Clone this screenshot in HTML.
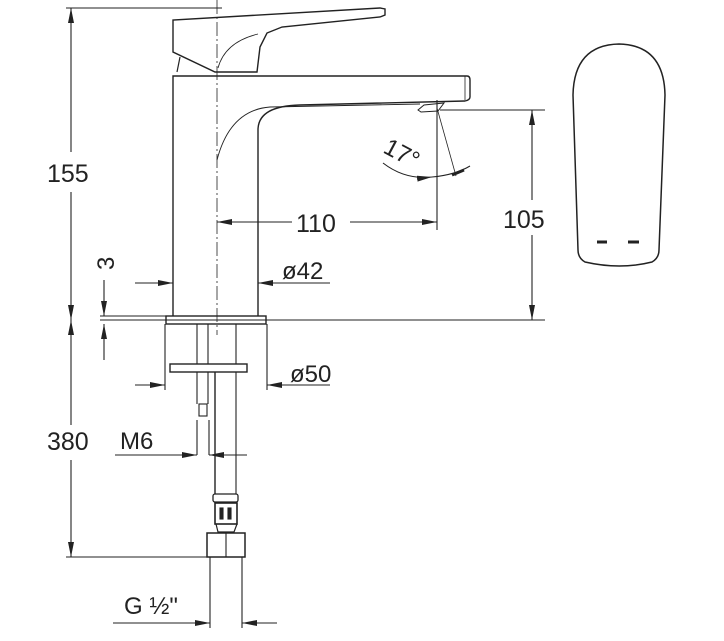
<!DOCTYPE html>
<html><head><style>
html,body{margin:0;padding:0;background:#fff;}
svg{display:block;}
text{font-family:"Liberation Sans",sans-serif;fill:#222;}
</style></head><body>
<svg width="724" height="641" viewBox="0 0 724 641" xmlns="http://www.w3.org/2000/svg">
<defs>
<marker id="a" viewBox="0 0 10 10" refX="10" refY="5" markerWidth="15" markerHeight="6" preserveAspectRatio="none" markerUnits="userSpaceOnUse" orient="auto-start-reverse"><path d="M0,0 L10,5 L0,10 z" fill="#222"/></marker>
</defs>
<g fill="none" stroke="#222" stroke-width="1.1">
<line x1="66" y1="8" x2="222" y2="8"/>
<line x1="100" y1="320" x2="545" y2="320"/>
<line x1="100" y1="316" x2="173" y2="316"/>
<line x1="440" y1="110" x2="545" y2="110"/>
<line x1="66" y1="557" x2="207" y2="557"/>
<line x1="217" y1="0" x2="217" y2="335" stroke-dasharray="14,3,2,3" stroke-width="0.8"/>
<line x1="71" y1="8" x2="71" y2="152" marker-start="url(#a)"/>
<line x1="71" y1="192" x2="71" y2="320" marker-end="url(#a)"/>
<line x1="71" y1="320" x2="71" y2="425" marker-start="url(#a)"/>
<line x1="71" y1="460" x2="71" y2="557" marker-end="url(#a)"/>
<line x1="104" y1="280" x2="104" y2="316" marker-end="url(#a)"/>
<line x1="104" y1="324" x2="104" y2="360" marker-start="url(#a)"/>
<line x1="532" y1="110" x2="532" y2="200" marker-start="url(#a)"/>
<line x1="532" y1="235" x2="532" y2="320" marker-end="url(#a)"/>
<line x1="217" y1="222" x2="292" y2="222" marker-start="url(#a)"/>
<line x1="350" y1="222" x2="437" y2="222" marker-end="url(#a)"/>
<line x1="437" y1="100" x2="437" y2="230"/>
<line x1="135" y1="283" x2="173" y2="283" marker-end="url(#a)"/>
<line x1="258" y1="283" x2="330" y2="283" marker-start="url(#a)"/>
<line x1="135" y1="385" x2="165" y2="385" marker-end="url(#a)"/>
<line x1="267" y1="385" x2="330" y2="385" marker-start="url(#a)"/>
<line x1="165" y1="324" x2="165" y2="390"/>
<line x1="267" y1="324" x2="267" y2="390"/>
<line x1="115" y1="455" x2="197" y2="455" marker-end="url(#a)"/>
<line x1="209" y1="455" x2="247" y2="455" marker-start="url(#a)"/>
<line x1="113" y1="623" x2="210" y2="623" marker-end="url(#a)"/>
<line x1="242" y1="623" x2="277" y2="623" marker-start="url(#a)"/>
<line x1="437" y1="108" x2="456" y2="176" stroke-width="0.8"/>
<path d="M383,163 Q405,180 432,177" marker-end="url(#a)"/>
<path d="M432,177 Q455,175 470,166" />
<path d="M452,175 L464,170" stroke-width="3"/>
<path d="M173,20 L173,52 L215,72 L257,72 L260,47 L267,33 L282,27 L380,17 L385,15 L385,9 L380,8 Z" stroke-width="1.4"/>
<path d="M177,72 L180,57" stroke-width="1.2"/>
<path d="M218,68 Q225,42 258,34" stroke-width="0.8"/>
<path d="M173,316 L173,76 L467,76 Q470,76 470,80 L470,97 Q470,100 465,101 L300,105 Q258,106 258,130 L258,316" stroke-width="1.4"/>
<path d="M465,76 L465,100" stroke-width="0.8"/>
<path d="M217,160 Q230,110 270,107 L420,104" stroke-width="0.9"/>
<path d="M418,110 L424,105 L444,103 L438,111 L421,112 Z" stroke-width="1"/>
<rect x="166" y="316" width="100" height="8" stroke-width="1.4"/>
<line x1="197" y1="324" x2="197" y2="364"/>
<line x1="208" y1="324" x2="208" y2="364"/>
<line x1="236" y1="324" x2="236" y2="364"/>
<rect x="170" y="364" width="77" height="8" stroke-width="1.4"/>
<line x1="197" y1="372" x2="197" y2="404"/>
<line x1="208" y1="372" x2="208" y2="404"/>
<rect x="199" y="404" width="8" height="12"/>
<line x1="215" y1="372" x2="215" y2="494" stroke-width="1.4"/>
<line x1="236" y1="372" x2="236" y2="494"/>
<line x1="197" y1="420" x2="197" y2="455"/>
<line x1="209" y1="420" x2="209" y2="455"/>
<rect x="213" y="494" width="25" height="8" rx="2" stroke-width="1.3"/>
<rect x="215" y="503" width="22" height="21" stroke-width="1.6"/>
<rect x="220" y="508" width="3" height="11" fill="#222"/>
<rect x="228" y="508" width="3" height="11" fill="#222"/>
<path d="M216,524 L218,532 L234,532 L237,524" stroke-width="1.2"/>
<rect x="207" y="533" width="38" height="24" stroke-width="1.5"/>
<line x1="226" y1="533" x2="226" y2="557"/>
<line x1="210" y1="557" x2="210" y2="628"/>
<line x1="242" y1="557" x2="242" y2="628"/>
<path d="M585,262 Q578,258 578,250 L573,95 Q574,45 619,44 Q664,45 665,95 L659,250 Q659,258 652,262 Q620,270 585,262 Z" stroke-width="1.5"/>
<line x1="597" y1="242" x2="607" y2="242" stroke-width="3"/>
<line x1="628" y1="242" x2="639" y2="242" stroke-width="3"/>
</g>
<text x="47" y="182" font-size="25">155</text>
<text x="47" y="450" font-size="25">380</text>
<text x="503" y="228" font-size="25">105</text>
<text x="296" y="232" font-size="25">110</text>
<text x="282" y="279" font-size="24">ø42</text>
<text x="290" y="382" font-size="24">ø50</text>
<text x="120" y="449" font-size="24">M6</text>
<text x="124" y="614" font-size="24">G ½"</text>
<text font-size="24" transform="translate(114,270) rotate(-90)">3</text>
<text font-size="24" transform="translate(382,152) rotate(28)">17°</text>
</svg>
</body></html>
